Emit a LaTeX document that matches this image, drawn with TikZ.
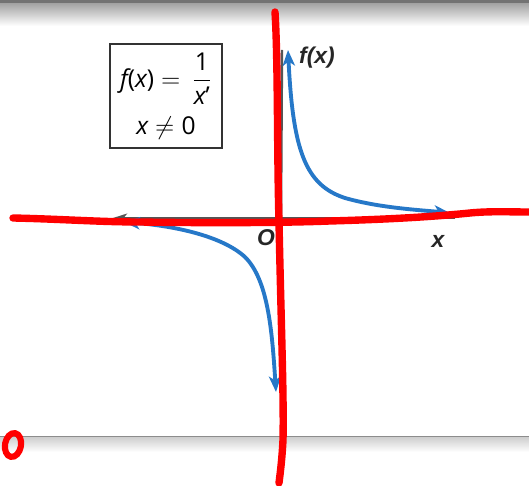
\documentclass[tikz,border=0pt]{standalone}
\usepackage{fontspec}
\usepackage{amsmath}
\setmainfont{Open Sans}
\newfontfamily\labfont{Liberation Sans}
\usetikzlibrary{arrows.meta}
\definecolor{curveblue}{RGB}{38,120,200}
\definecolor{axisgray}{RGB}{85,85,85}
\definecolor{penred}{RGB}{255,0,0}
\tikzset{
  curve/.style={draw=curveblue, line width=2.2pt, line cap=round, {Stealth[length=9pt,width=7pt,inset=2.5pt]}-{Stealth[length=9pt,width=7pt,inset=2.5pt]}},
  axisline/.style={draw=axisgray, line width=1.4pt},
  pen/.style={draw=penred, line width=4.2pt, line cap=round, line join=round},
  lab/.style={font=\labfont\bfseries\itshape\fontsize{13}{15}\selectfont, text=black!85},
  eqbox/.style={draw=black!80, line width=0.8pt, minimum width=112*0.02cm, minimum height=104*0.02cm, align=center, inner sep=2pt, font=\fontsize{14}{17}\selectfont}
}
\begin{document}
\begin{tikzpicture}[x=0.02cm,y=-0.02cm]
\useasboundingbox (0,0) rectangle (529,486);
% page edges (scan shadows)
\fill[black!55] (0,0) rectangle (529,4);
\shade[top color=black!35, bottom color=white] (0,4) rectangle (529,26);
\draw[black!45, line width=0.8pt] (0,437) -- (529,437);
\shade[top color=black!18, bottom color=white] (0,438) rectangle (529,452);
% axes
\coordinate (O) at (281,218);
\coordinate (axL) at (113,218);
\coordinate (axR) at (455,218);
\coordinate (axT) at (282,50);
\draw[axisline, -{Stealth[length=8pt,width=5pt,inset=2pt]}] (axR) -- (axL);
\draw[axisline] (O) -- (axT);
% box
\node[eqbox] (box) at (166,96) {\fontsize{14}{17}\selectfont$\textit{f}\text{(}\textit{x}\text{)} = \,\dfrac{\text{1}}{\textit{x}\text{\textquoteright}}$\\[6pt] $\textit{x}\neq\text{0}$};
% blue curves
\coordinate (q1top) at (288,50);
\coordinate (q1mid) at (345,198);
\coordinate (q1end) at (450,213);
\draw[curve] (q1top) .. controls (293,150) and (305,185) .. (q1mid) .. controls (380,208) and (420,210) .. (q1end);
\coordinate (q3bot) at (276,392);
\coordinate (q3mid) at (245,257);
\coordinate (q3end) at (124,222);
\draw[curve] (q3end) .. controls (175,226) and (222,236) .. (q3mid) .. controls (268,280) and (272,330) .. (q3bot);
% labels
\node[lab, anchor=west] (fx) at (293,58) {f(x)};
\node[lab] (olab) at (266,238) {O};
\node[lab] (xlab) at (438,241) {x};
% red pen marks
\draw[pen] (275,12) .. controls (278,60) and (277,150) .. (279,222) .. controls (281,320) and (284,400) .. (283,440) .. controls (282,460) and (280,475) .. (279,483);
\draw[pen] (13,218) .. controls (60,219) and (100,222) .. (140,222) .. controls (200,223) and (280,223) .. (330,221) .. controls (400,219) and (440,216) .. (470,213) .. controls (490,211) and (510,212) .. (529,212);
\draw[penred, line width=3.5pt, rotate around={-10:(13,445)}] (13,445) ellipse [x radius=8, y radius=12];
\end{tikzpicture}
\end{document}
